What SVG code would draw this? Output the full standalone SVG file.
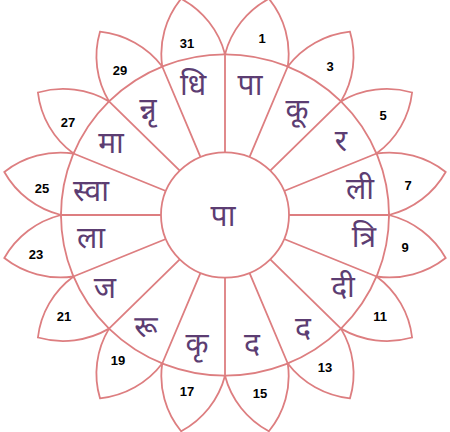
<svg xmlns="http://www.w3.org/2000/svg" width="450" height="432" viewBox="0 0 450 432">
<style>
.ln{fill:none;stroke:#dd7e80;stroke-width:1.8;vector-effect:non-scaling-stroke}
.pt{fill:#ffffff;stroke:#dd7e80;stroke-width:1.8;vector-effect:non-scaling-stroke}
.sy{font-family:'Noto Sans Devanagari','Lohit Devanagari','Noto Sans',sans-serif;font-size:30px;fill:#5c3d72;text-anchor:middle;dominant-baseline:central}
.nm{font-family:'Liberation Sans',Arial,sans-serif;font-size:13px;font-weight:bold;fill:#000;text-anchor:middle}
</style>
<rect width="450" height="432" fill="#ffffff"/>
<g id="petals" transform="translate(225 215) scale(1 0.98)">
<path id="petal-1" class="pt" d="M0,-164 A90,90 0 0 1 43.90,-220.68 A90,90 0 0 1 62.76,-151.52 Z"/>
<path id="petal-3" class="pt" d="M62.76,-151.52 A90,90 0 0 1 125.00,-187.08 A90,90 0 0 1 115.97,-115.97 Z"/>
<path id="petal-5" class="pt" d="M115.97,-115.97 A90,90 0 0 1 187.08,-125.00 A90,90 0 0 1 151.52,-62.76 Z"/>
<path id="petal-7" class="pt" d="M151.52,-62.76 A90,90 0 0 1 220.68,-43.90 A90,90 0 0 1 164,0 Z"/>
<path id="petal-9" class="pt" d="M164,0 A90,90 0 0 1 220.68,43.90 A90,90 0 0 1 151.52,62.76 Z"/>
<path id="petal-11" class="pt" d="M151.52,62.76 A90,90 0 0 1 187.08,125.00 A90,90 0 0 1 115.97,115.97 Z"/>
<path id="petal-13" class="pt" d="M115.97,115.97 A90,90 0 0 1 125.00,187.08 A90,90 0 0 1 62.76,151.52 Z"/>
<path id="petal-15" class="pt" d="M62.76,151.52 A90,90 0 0 1 43.90,220.68 A90,90 0 0 1 0,164 Z"/>
<path id="petal-17" class="pt" d="M0,164 A90,90 0 0 1 -43.90,220.68 A90,90 0 0 1 -62.76,151.52 Z"/>
<path id="petal-19" class="pt" d="M-62.76,151.52 A90,90 0 0 1 -125.00,187.08 A90,90 0 0 1 -115.97,115.97 Z"/>
<path id="petal-21" class="pt" d="M-115.97,115.97 A90,90 0 0 1 -187.08,125.00 A90,90 0 0 1 -151.52,62.76 Z"/>
<path id="petal-23" class="pt" d="M-151.52,62.76 A90,90 0 0 1 -220.68,43.90 A90,90 0 0 1 -164,0 Z"/>
<path id="petal-25" class="pt" d="M-164,0 A90,90 0 0 1 -220.68,-43.90 A90,90 0 0 1 -151.52,-62.76 Z"/>
<path id="petal-27" class="pt" d="M-151.52,-62.76 A90,90 0 0 1 -187.08,-125.00 A90,90 0 0 1 -115.97,-115.97 Z"/>
<path id="petal-29" class="pt" d="M-115.97,-115.97 A90,90 0 0 1 -125.00,-187.08 A90,90 0 0 1 -62.76,-151.52 Z"/>
<path id="petal-31" class="pt" d="M-62.76,-151.52 A90,90 0 0 1 -43.90,-220.68 A90,90 0 0 1 0,-164 Z"/>
</g>
<g id="ring" transform="translate(225 215) scale(1 0.98)">
<circle class="pt" cx="0" cy="0" r="164"/>
<g id="spokes">
<path class="ln" d="M0,-64 L0,-164 M24.49,-59.13 L62.76,-151.52 M45.25,-45.25 L115.97,-115.97 M59.13,-24.49 L151.52,-62.76 M64,0 L164,0 M59.13,24.49 L151.52,62.76 M45.25,45.25 L115.97,115.97 M24.49,59.13 L62.76,151.52 M0,64 L0,164 M-24.49,59.13 L-62.76,151.52 M-45.25,45.25 L-115.97,115.97 M-59.13,24.49 L-151.52,62.76 M-64,0 L-164,0 M-59.13,-24.49 L-151.52,-62.76 M-45.25,-45.25 L-115.97,-115.97 M-24.49,-59.13 L-62.76,-151.52"/>
</g>
<circle id="center-circle" class="ln" cx="0" cy="0" r="64"/>
</g>
<g id="syllables">
<text id="s-center" class="sy" x="223" y="218">पा</text>
<text id="s1" class="sy" x="250" y="87">पा</text>
<text id="s3" class="sy" x="297" y="112">कू</text>
<text id="s5" class="sy" x="341" y="143">र</text>
<text id="s7" class="sy" x="360" y="191">ली</text>
<text id="s9" class="sy" x="364" y="239">त्रि</text>
<text id="s11" class="sy" x="343" y="289">दी</text>
<text id="s13" class="sy" x="303" y="330">द</text>
<text id="s15" class="sy" x="252" y="346">द</text>
<text id="s17" class="sy" x="197" y="346">कृ</text>
<text id="s19" class="sy" x="146" y="329">रू</text>
<text id="s21" class="sy" x="105" y="290">ज</text>
<text id="s23" class="sy" x="91" y="240">ला</text>
<text id="s25" class="sy" x="91" y="193">स्वा</text>
<text id="s27" class="sy" x="111" y="145">मा</text>
<text id="s29" class="sy" x="148" y="111">न्नृ</text>
<text id="s31" class="sy" x="193" y="87">धि</text>
</g>
<g id="numbers">
<text class="nm" x="262" y="43">1</text>
<text class="nm" x="330" y="71">3</text>
<text class="nm" x="383" y="120">5</text>
<text class="nm" x="408" y="190">7</text>
<text class="nm" x="405" y="252">9</text>
<text class="nm" x="380" y="321">11</text>
<text class="nm" x="325" y="372">13</text>
<text class="nm" x="260" y="398">15</text>
<text class="nm" x="187" y="396">17</text>
<text class="nm" x="118" y="365">19</text>
<text class="nm" x="64" y="321">21</text>
<text class="nm" x="36" y="259">23</text>
<text class="nm" x="42" y="193">25</text>
<text class="nm" x="68" y="127">27</text>
<text class="nm" x="120" y="75">29</text>
<text class="nm" x="187" y="48">31</text>
</g>
</svg>
